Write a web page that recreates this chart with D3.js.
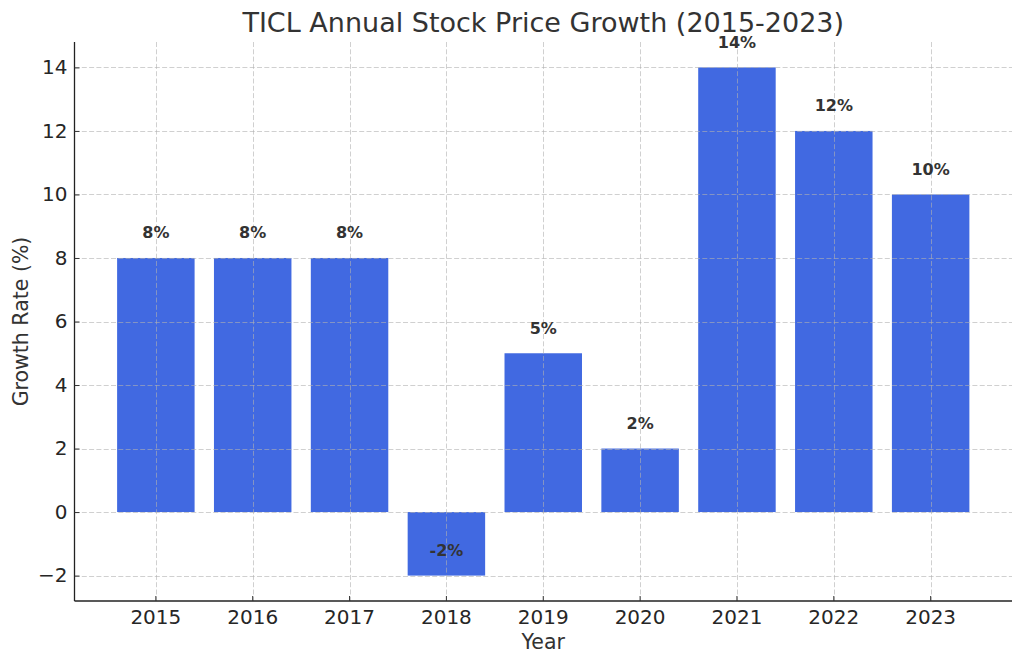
<!DOCTYPE html>
<html>
<head>
<meta charset="utf-8">
<script src="https://cdn.jsdelivr.net/npm/d3@7"></script>
<style>
  html, body { margin: 0; padding: 0; background: #fff; }
  svg { display: block; font-family: "DejaVu Sans", sans-serif; }
</style>
</head>
<body>
<svg id="chart" width="1024" height="666"></svg>
<script>
const years = ["2015", "2016", "2017", "2018", "2019", "2020", "2021", "2022", "2023"];
const growth = [8, 8, 8, -2, 5, 2, 14, 12, 10];
const yTicks = [-2, 0, 2, 4, 6, 8, 10, 12, 14];
const titleText = "TICL Annual Stock Price Growth (2015-2023)";
const xLabel = "Year";
const yLabel = "Growth Rate (%)";

const svg = d3.select("#chart");
const pLeft = 74.5, pRight = 1012, pTop = 42, pBottom = 601;

const x = d3.scaleBand().domain(years).range([pLeft, pRight])
  .paddingInner(0.2).paddingOuter(0.44);
const y = d3.scaleLinear().domain([-2.8, 14.8]).range([pBottom, pTop]);

const data = years.map((yr, i) => ({ year: yr, value: growth[i] }));

// bars
svg.append("g").selectAll("rect").data(data).join("rect")
  .attr("x", d => x(d.year))
  .attr("width", x.bandwidth())
  .attr("y", d => y(Math.max(0, d.value)))
  .attr("height", d => Math.abs(y(d.value) - y(0)))
  .attr("fill", "#4169E1");

// grid
const grid = svg.append("g").attr("stroke", "#b0b0b0").attr("stroke-opacity", 0.6)
  .attr("stroke-width", 1).attr("stroke-dasharray", "5,2.3");
grid.selectAll("line.h").data(yTicks).join("line").attr("class", "h")
  .attr("x1", pLeft).attr("x2", pRight)
  .attr("y1", d => Math.round(y(d)) + 0.5).attr("y2", d => Math.round(y(d)) + 0.5);
grid.selectAll("line.v").data(years).join("line").attr("class", "v")
  .attr("y1", pTop).attr("y2", pBottom)
  .attr("x1", d => Math.round(x(d) + x.bandwidth() / 2) + 0.5)
  .attr("x2", d => Math.round(x(d) + x.bandwidth() / 2) + 0.5);

// axes
const xAxis = d3.axisBottom(x).tickSize(-5).tickPadding(9).tickSizeOuter(0);
const yAxis = d3.axisLeft(y).tickValues(yTicks).tickSize(-5).tickPadding(7)
  .tickFormat(d => d < 0 ? "\u2212" + Math.abs(d) : d).tickSizeOuter(0);

const gx = svg.append("g").attr("transform", `translate(0,${pBottom})`).call(xAxis);
const gy = svg.append("g").attr("transform", `translate(${pLeft},0)`).call(yAxis);
[gx, gy].forEach(g => {
  g.select(".domain").attr("stroke", "#222").attr("stroke-width", 1.3);
  g.selectAll(".tick line").attr("stroke", "#333").attr("stroke-width", 1);
  g.selectAll(".tick text").attr("fill", "#262626")
    .style("font-family", "DejaVu Sans").style("font-size", "20px");
});
gy.select(".domain").attr("d", `M0,${pTop}V${pBottom}`);
gx.select(".domain").attr("d", `M${pLeft},0H${pRight}`);

// value labels
svg.append("g").selectAll("text").data(data).join("text")
  .attr("x", d => x(d.year) + x.bandwidth() / 2)
  .attr("y", d => y(d.value + 0.5) - 3.6)
  .attr("text-anchor", "middle")
  .attr("font-weight", "bold")
  .attr("font-size", 16)
  .attr("fill", "#333")
  .text(d => d.value + "%");

// title
svg.append("text").attr("x", (pLeft + pRight) / 2).attr("y", 32)
  .attr("text-anchor", "middle").attr("font-size", 27).attr("fill", "#333")
  .text(titleText);

// axis labels
svg.append("text").attr("x", (pLeft + pRight) / 2).attr("y", 649)
  .attr("text-anchor", "middle").attr("font-size", 20.5).attr("fill", "#333")
  .text(xLabel);
svg.append("text")
  .attr("transform", `translate(28,${(pTop + pBottom) / 2}) rotate(-90)`)
  .attr("text-anchor", "middle").attr("font-size", 20.5).attr("fill", "#333")
  .text(yLabel);
</script>
</body>
</html>
